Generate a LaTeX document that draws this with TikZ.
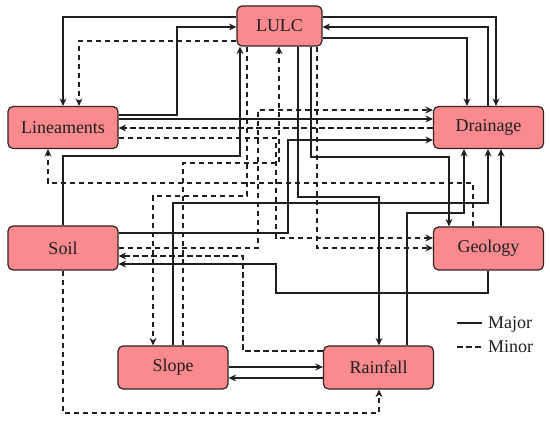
\documentclass[tikz,border=0pt]{standalone}
\usepackage{fontspec}
\setmainfont{Liberation Serif}
\usetikzlibrary{arrows.meta}
\definecolor{boxfill}{RGB}{250,138,142}
\definecolor{boxline}{RGB}{50,35,35}
\definecolor{ink}{RGB}{30,30,30}
\begin{document}
\begin{tikzpicture}[x=1pt,y=-1pt,
  box/.style={draw=boxline, fill=boxfill, line width=1.2pt, rounded corners=5pt,
    minimum width=110pt, minimum height=42pt, inner sep=0pt,
    font=\fontsize{18}{21}\selectfont, text=ink},
  lbl/.style={anchor=west, inner sep=0pt, font=\fontsize{18}{21}\selectfont, text=ink},
  plain/.style={draw=ink, line width=1.3pt},
  majr/.style={plain, -{Stealth[length=7.5pt,width=7pt,inset=2.5pt]}},
  minr/.style={majr, dash pattern=on 5.5pt off 3.5pt},
  legdash/.style={plain, dash pattern=on 5.5pt off 3.5pt}]
\useasboundingbox (0,0) rectangle (550,422);

% nodes
\node[box, minimum width=85pt, minimum height=40pt] (LULC) at (279.5,26) {LULC};
\node[box] (Lin) at (63,127.5) {Lineaments};
\node[box] (Dra) at (488.5,127.5) {Drainage};
\node[box, minimum height=44pt] (Soil) at (63,248) {Soil};
\node[box, minimum height=43pt] (Geo) at (488.5,248.5) {Geology};
\node[box, minimum height=43pt] (Slope) at (173,367.5) {Slope};
\node[box, minimum height=43pt] (Rain) at (378.5,367.5) {Rainfall};

% LULC <-> Lineaments
\draw[majr] (LULC.west |- 0,17) -| (Lin.north -| 63,0);
\draw[majr] (Lin.east |- 0,115) -| (177,27) -- (LULC.west |- 0,27);
\draw[minr] (LULC.west |- 0,41) -| (Lin.north -| 79,0);

% LULC <-> Drainage
\draw[majr] (LULC.east |- 0,17) -| (Dra.north -| 496,0);
\draw[majr] (Dra.north -| 488,0) |- (LULC.east |- 0,27);
\draw[majr] (LULC.east |- 0,38) -| (Dra.north -| 467,0);

% Lineaments <-> Drainage
\draw[majr] (Lin.east |- 0,119) -- (Dra.west |- 0,119);
\draw[minr] (Dra.west |- 0,128) -- (Lin.east |- 0,128);

% Lineaments -> Geology, Geology -> Lineaments
\draw[minr] (Lin.east |- 0,138) -| (276,238) -- (Geo.west |- 0,238);
\draw[minr] (Geo.north -| 473,0) |- (48,183) -- (Lin.south -| 48,0);

% Soil -> LULC
\draw[majr] (Soil.north -| 63,0) |- (240,156) -- (LULC.south -| 240,0);
% LULC -> Slope
\draw[minr] (LULC.south -| 247,0) |- (153,196) -- (Slope.north -| 153,0);
% Slope -> LULC
\draw[minr] (Slope.north -| 183,0) |- (279,163) -- (LULC.south -| 279,0);
% LULC -> Rainfall
\draw[majr] (LULC.south -| 298,0) |- (379,197) -- (Rain.north -| 379,0);
% LULC -> Geology
\draw[majr] (LULC.south -| 311,0) |- (449,157) -- (Geo.north -| 449,0);
\draw[minr] (LULC.south -| 317,0) |- (Geo.west |- 0,248);

% Soil -> Drainage
\draw[minr] (Soil.east |- 0,248) -| (258,110) -- (Dra.west |- 0,110);
\draw[majr] (Soil.east |- 0,233) -| (288,140) -- (Dra.west |- 0,140);

% Slope -> Drainage
\draw[majr] (Slope.north -| 173,0) |- (488,203) -- (Dra.south -| 488,0);
% Rainfall -> Drainage
\draw[majr] (Rain.north -| 407,0) |- (464,213) -- (Dra.south -| 464,0);
% Geology -> Drainage
\draw[majr] (Geo.north -| 501,0) -- (Dra.south -| 501,0);

% Geology -> Soil
\draw[majr] (Geo.south -| 488,0) |- (276,293) |- (Soil.east |- 0,264);
% Rainfall -> Soil
\draw[minr] (Rain.west |- 0,351) -| (243,256) -- (Soil.east |- 0,256);
% Soil -> Rainfall
\draw[minr] (Soil.south -| 63,0) |- (379,413) -- (Rain.south -| 379,0);

% Slope <-> Rainfall
\draw[majr] (Slope.east |- 0,367) -- (Rain.west |- 0,367);
\draw[majr] (Rain.west |- 0,378) -- (Slope.east |- 0,378);

% legend
\coordinate (lgA1) at (457,323); \coordinate (lgA2) at (482,323);
\coordinate (lgB1) at (457,347); \coordinate (lgB2) at (482,347);
\draw[plain] (lgA1) -- (lgA2);
\draw[legdash] (lgB1) -- (lgB2);
\node[lbl] (lgMaj) at (488,324) {Major};
\node[lbl] (lgMin) at (488,347) {Minor};
\end{tikzpicture}
\end{document}
